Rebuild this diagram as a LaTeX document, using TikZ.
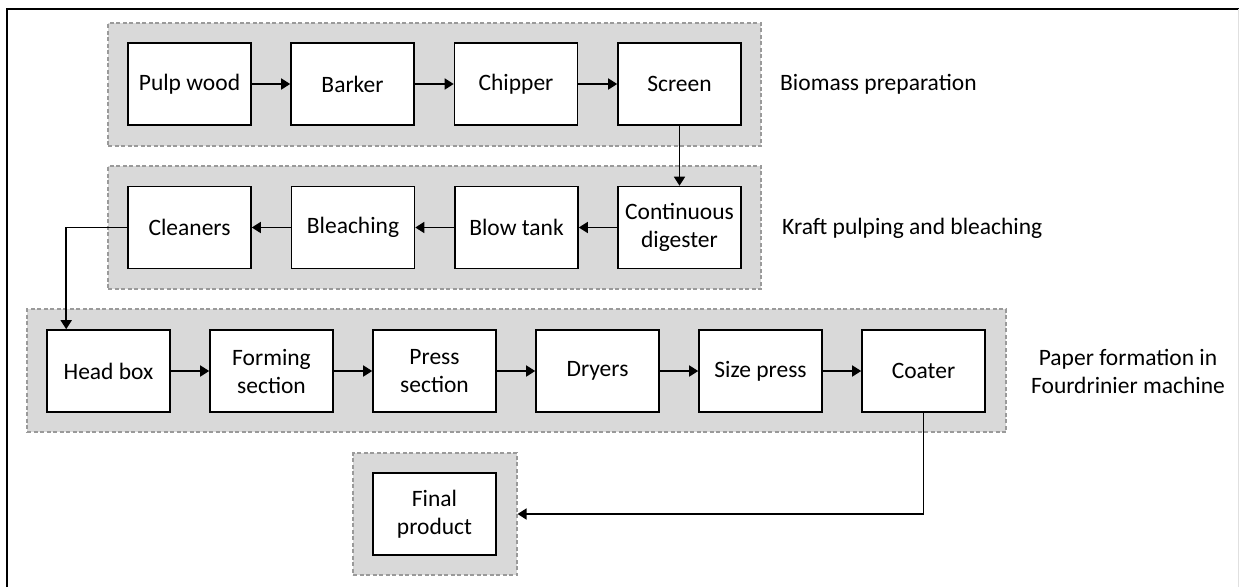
\documentclass[tikz,border=0pt]{standalone}
\usepackage{fontspec}
\setmainfont{Carlito}
\usetikzlibrary{arrows.meta}
\definecolor{groupfill}{HTML}{D9D9D9}
\definecolor{groupline}{HTML}{9A9A9A}
\tikzset{
  stage/.style={draw=black, line width=1.6pt, fill=white, minimum width=123pt,
    minimum height=82pt, inner sep=2pt, align=center,
    font=\fontsize{23.5}{28}\selectfont},
  grp/.style={draw=groupline, line width=1.1pt, dash pattern=on 4pt off 2.5pt,
    fill=groupfill, inner sep=0pt},
  flow/.style={line width=1.6pt, -{Triangle[length=9pt,width=11pt]}},
  grplabel/.style={font=\fontsize{23.5}{28}\selectfont, align=center, inner sep=0pt}
}
\begin{document}
\begin{tikzpicture}[x=1pt, y=-1pt]
\useasboundingbox (0,0) rectangle (1239,587);

% outer frame
\draw[line width=1.6pt] (7,587) -- (7,9) -- (1239,9);
\draw[line width=1pt, black!12] (1238,9) -- (1238,587);

% shaded process groups
\node[grp, minimum width=653pt, minimum height=123pt] (g1) at (434.5,84.5) {};
\node[grp, minimum width=653pt, minimum height=123pt] (g2) at (434.5,227.5) {};
\node[grp, minimum width=979pt, minimum height=123pt] (g3) at (516.5,370.5) {};
\node[grp, minimum width=164pt, minimum height=122pt] (g4) at (435,514) {};

% biomass preparation
\node[stage] (pulp) at (189.5,84) {Pulp wood};
\node[stage] (bark) at (352.5,84) {Barker};
\node[stage] (chip) at (516,84) {Chipper};
\node[stage] (scrn) at (679.5,84) {Screen};

% kraft pulping and bleaching
\node[stage] (clean) at (189.5,227.5) {Cleaners};
\node[stage] (bleach) at (353,227.5) {Bleaching};
\node[stage] (blow) at (516.5,227.5) {Blow tank};
\node[stage] (dig) at (679.5,227.5) {Continuous\\digester};

% paper machine
\node[stage] (head) at (108.5,371) {Head box};
\node[stage] (form) at (271.5,371) {Forming\\section};
\node[stage] (press) at (434.5,371) {Press\\section};
\node[stage] (dry) at (597.5,371) {Dryers};
\node[stage] (size) at (760.5,371) {Size press};
\node[stage] (coat) at (923.5,371) {Coater};

% product
\node[stage] (final) at (434.5,514) {Final\\product};

% group labels
\node[grplabel, anchor=west] (l1) at (780,84) {Biomass preparation};
\node[grplabel, anchor=west] (l2) at (782,228) {Kraft pulping and bleaching};
\node[grplabel] (l3) at (1128,371) {Paper formation in\\Fourdrinier machine};

% flow connectors
\draw[flow] (pulp) -- (bark);
\draw[flow] (bark) -- (chip);
\draw[flow] (chip) -- (scrn);
\draw[flow] (scrn) -- (dig);
\draw[flow] (dig) -- (blow);
\draw[flow] (blow) -- (bleach);
\draw[flow] (bleach) -- (clean);
\draw[flow] (clean.west) -| ([xshift=20pt]head.north west);
\draw[flow] (head) -- (form);
\draw[flow] (form) -- (press);
\draw[flow] (press) -- (dry);
\draw[flow] (dry) -- (size);
\draw[flow] (size) -- (coat);
\draw[flow] (coat.south) |- (g4.east);
\end{tikzpicture}
\end{document}
